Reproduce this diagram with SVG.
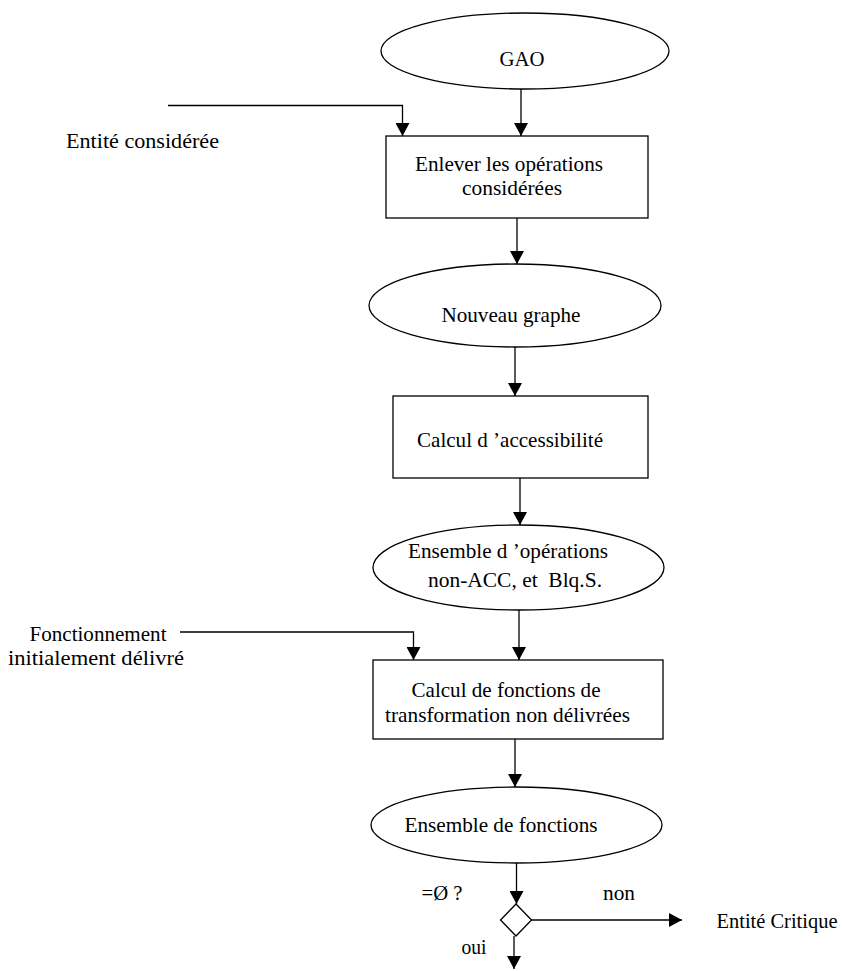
<svg xmlns="http://www.w3.org/2000/svg" width="842" height="971" viewBox="0 0 842 971">
<style>
.shape{fill:#fff;stroke:#000;stroke-width:1.3}
.line{fill:none;stroke:#000;stroke-width:1.3}
text{font-family:'Liberation Serif','Tinos','DejaVu Serif',serif;font-size:21px;fill:#000;white-space:pre}
.c{text-anchor:middle}
</style>
<defs>
<marker id="arr" viewBox="0 0 13 14" refX="13" refY="7" markerWidth="13" markerHeight="14" markerUnits="userSpaceOnUse" orient="auto">
<path d="M0,0 L13,7 L0,14 z" fill="#000"/>
</marker>
</defs>
<rect width="842" height="971" fill="#fff"/>
<g id="connectors">
<path class="line" d="M521,89 V136" marker-end="url(#arr)"/>
<path class="line" d="M168,105.5 H402.5 V136" marker-end="url(#arr)"/>
<path class="line" d="M517,218 V264" marker-end="url(#arr)"/>
<path class="line" d="M515,347 V396" marker-end="url(#arr)"/>
<path class="line" d="M520,478 V525" marker-end="url(#arr)"/>
<path class="line" d="M519,610 V660" marker-end="url(#arr)"/>
<path class="line" d="M180,632 H413.5 V660" marker-end="url(#arr)"/>
<path class="line" d="M515,739 V787" marker-end="url(#arr)"/>
<path class="line" d="M516.5,863 V904" marker-end="url(#arr)"/>
<path class="line" d="M531.5,920 H682" marker-end="url(#arr)"/>
<path class="line" d="M514,936 V969" marker-end="url(#arr)"/>
</g>
<g id="gao">
<ellipse class="shape" cx="525" cy="51" rx="144" ry="38"/>
<text class="c" x="522" y="66" textLength="45" lengthAdjust="spacingAndGlyphs" font-family="Liberation Serif, serif">GAO</text>
</g>
<g id="enlever">
<rect class="shape" x="386" y="136" width="262" height="82"/>
<text class="c" x="509" y="170.5" textLength="188" lengthAdjust="spacingAndGlyphs">Enlever les opérations</text>
<text class="c" x="512" y="195" textLength="100" lengthAdjust="spacingAndGlyphs">considérées</text>
</g>
<g id="entite-consideree">
<text x="66" y="148" textLength="153" lengthAdjust="spacingAndGlyphs">Entité considérée</text>
</g>
<g id="nouveau-graphe">
<ellipse class="shape" cx="515" cy="305.5" rx="146" ry="41.5"/>
<text class="c" x="511" y="322" textLength="139" lengthAdjust="spacingAndGlyphs">Nouveau graphe</text>
</g>
<g id="calcul-accessibilite">
<rect class="shape" x="393" y="396" width="255" height="82"/>
<text class="c" x="510" y="447" textLength="186" lengthAdjust="spacingAndGlyphs">Calcul d ’accessibilité</text>
</g>
<g id="ensemble-operations">
<ellipse class="shape" cx="518.5" cy="567.5" rx="145.5" ry="42.5"/>
<text class="c" x="508" y="558" textLength="200" lengthAdjust="spacingAndGlyphs">Ensemble d ’opérations</text>
<text class="c" x="515" y="587" textLength="174" lengthAdjust="spacingAndGlyphs">non-ACC, et  Blq.S.</text>
</g>
<g id="fonctionnement">
<text class="c" x="98" y="640.5" textLength="137" lengthAdjust="spacingAndGlyphs">Fonctionnement</text>
<text class="c" x="96" y="665" textLength="176" lengthAdjust="spacingAndGlyphs">initialement délivré</text>
</g>
<g id="calcul-fonctions">
<rect class="shape" x="373" y="660" width="290" height="79"/>
<text class="c" x="506" y="696.5" textLength="189" lengthAdjust="spacingAndGlyphs">Calcul de fonctions de</text>
<text class="c" x="507.5" y="721.5" textLength="245" lengthAdjust="spacingAndGlyphs">transformation non délivrées</text>
</g>
<g id="ensemble-fonctions">
<ellipse class="shape" cx="516.5" cy="825" rx="145.5" ry="38"/>
<text class="c" x="501" y="831.5" textLength="193" lengthAdjust="spacingAndGlyphs">Ensemble de fonctions</text>
</g>
<g id="decision">
<path class="shape" d="M516,904 L531.5,920 L516,936 L500.5,920 Z"/>
<text class="c" x="442" y="900" textLength="41" lengthAdjust="spacingAndGlyphs">=Ø ?</text>
<text class="c" x="619" y="900" textLength="32" lengthAdjust="spacingAndGlyphs">non</text>
<text class="c" x="474" y="954" textLength="25" lengthAdjust="spacingAndGlyphs">oui</text>
</g>
<g id="entite-critique">
<text x="716.5" y="927.5" textLength="121" lengthAdjust="spacingAndGlyphs">Entité Critique</text>
</g>
</svg>
